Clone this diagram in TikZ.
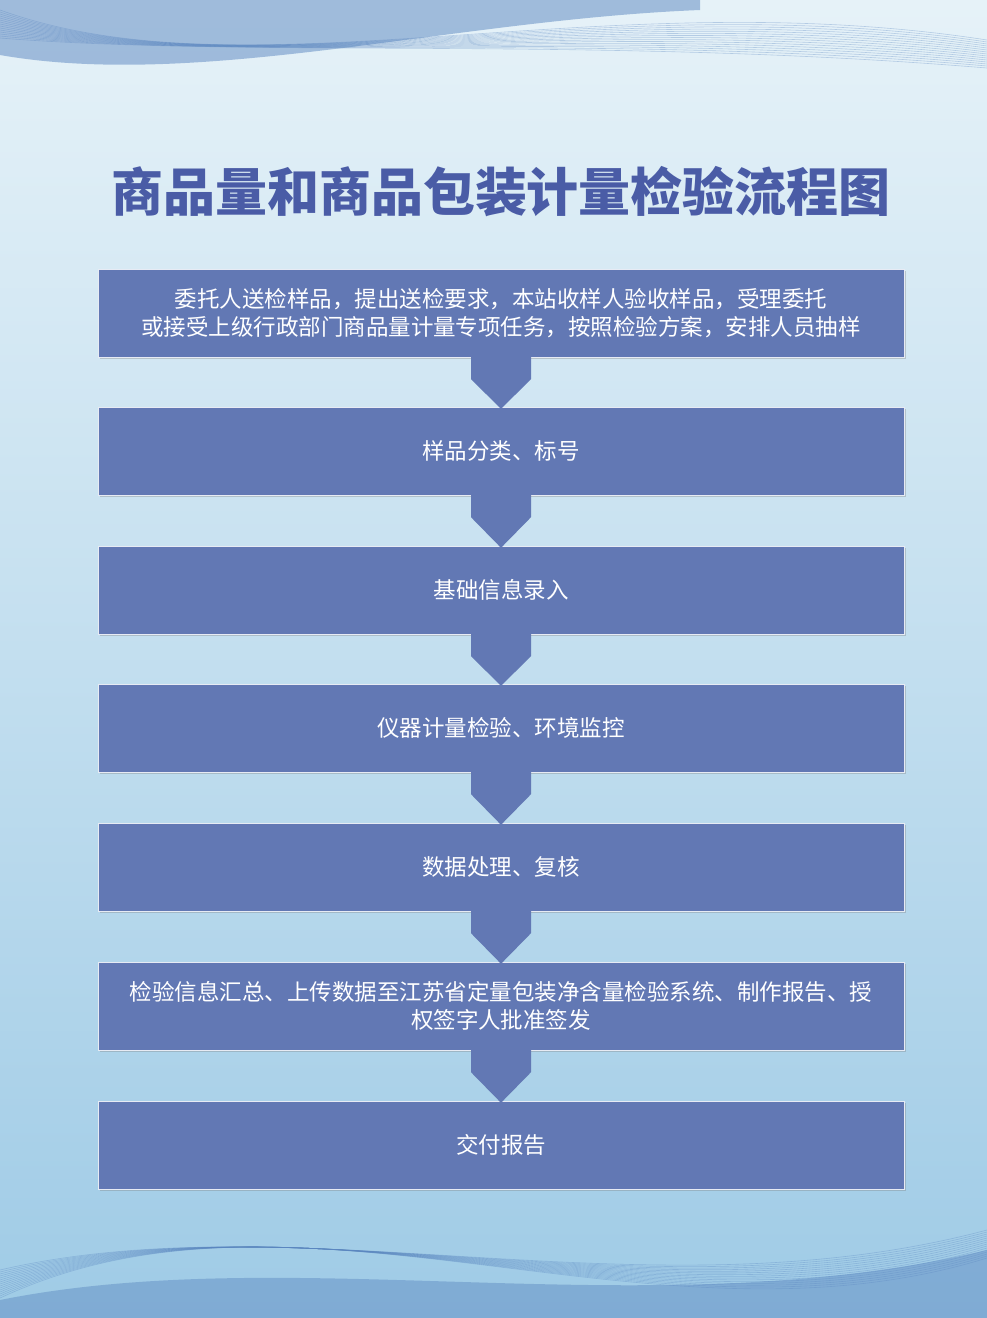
\documentclass[tikz,border=0pt]{standalone}
\usepackage{fontspec}
\newfontfamily\cjk{Noto Sans CJK SC}
\usetikzlibrary{positioning, shadows}
\definecolor{boxblue}{HTML}{6278B4}
\definecolor{titleblue}{HTML}{4A5CA6}
\definecolor{bgtop}{HTML}{E6F2F8}
\definecolor{bgbot}{HTML}{9FCBE6}
\definecolor{wave}{HTML}{5A86C0}

\begin{document}
\begin{tikzpicture}[
    x=1pt, y=-1pt,
    stepbox/.style={draw=white!85!boxblue, fill=boxblue, minimum width=806pt, minimum height=88pt, inner sep=2pt,
        text=white, font=\cjk\fontsize{22.5}{28}\selectfont, align=center, drop shadow={opacity=0.35}},
    flowarrow/.style={fill=boxblue}
]
\useasboundingbox (0,0) rectangle (987,1318);
\shade[top color=bgtop, bottom color=bgbot] (0,0) rectangle (987,1318);

% waves at top
\foreach \k in {0,...,14} {
    \draw[wave, opacity=0.35, line width=0.6pt]
        (0,10+2*\k) .. controls (250,100-3*\k) and (600,-20+4*\k) .. (987,40+2*\k);
}
\fill[wave, opacity=0.5] (0,0) -- (0,55) .. controls (200,90) and (450,20) .. (700,10) -- (700,0) -- cycle;
% waves at bottom
\foreach \k in {0,...,14} {
    \draw[wave, opacity=0.35, line width=0.6pt]
        (0,1270+2*\k) .. controls (300,1200-3*\k) and (650,1320+3*\k) .. (987,1230+2*\k);
}
\fill[wave, opacity=0.45] (0,1318) -- (0,1300) .. controls (300,1240) and (650,1330) .. (987,1250) -- (987,1318) -- cycle;

% title
\node[font=\cjk\bfseries\fontsize{52}{56}\selectfont, text=titleblue, drop shadow={opacity=0}] (title) at (501,192) {商品量和商品包装计量检验流程图};

% steps
\node[stepbox] (s1) at (501,313) {委托人送检样品，提出送检要求，本站收样人验收样品，受理委托\\或接受上级行政部门商品量计量专项任务，按照检验方案，安排人员抽样};
\node[stepbox] (s2) at (501,451) {样品分类、标号};
\node[stepbox] (s3) at (501,590) {基础信息录入};
\node[stepbox] (s4) at (501,728) {仪器计量检验、环境监控};
\node[stepbox] (s5) at (501,867) {数据处理、复核};
\node[stepbox] (s6) at (501,1006) {检验信息汇总、上传数据至江苏省定量包装净含量检验系统、制作报告、授\\权签字人批准签发};
\node[stepbox] (s7) at (501,1145) {交付报告};

% arrows between steps
\foreach \a/\b in {s1/s2, s2/s3, s3/s4, s4/s5, s5/s6, s6/s7} {
    \fill[flowarrow] ([xshift=-30pt]\a.south) -- ([xshift=30pt]\a.south)
        -- ([xshift=30pt,yshift=-22pt]\a.south) -- ([yshift=-2pt]\b.north)
        -- ([xshift=-30pt,yshift=-22pt]\a.south) -- cycle;
}
\end{tikzpicture}
\end{document}
